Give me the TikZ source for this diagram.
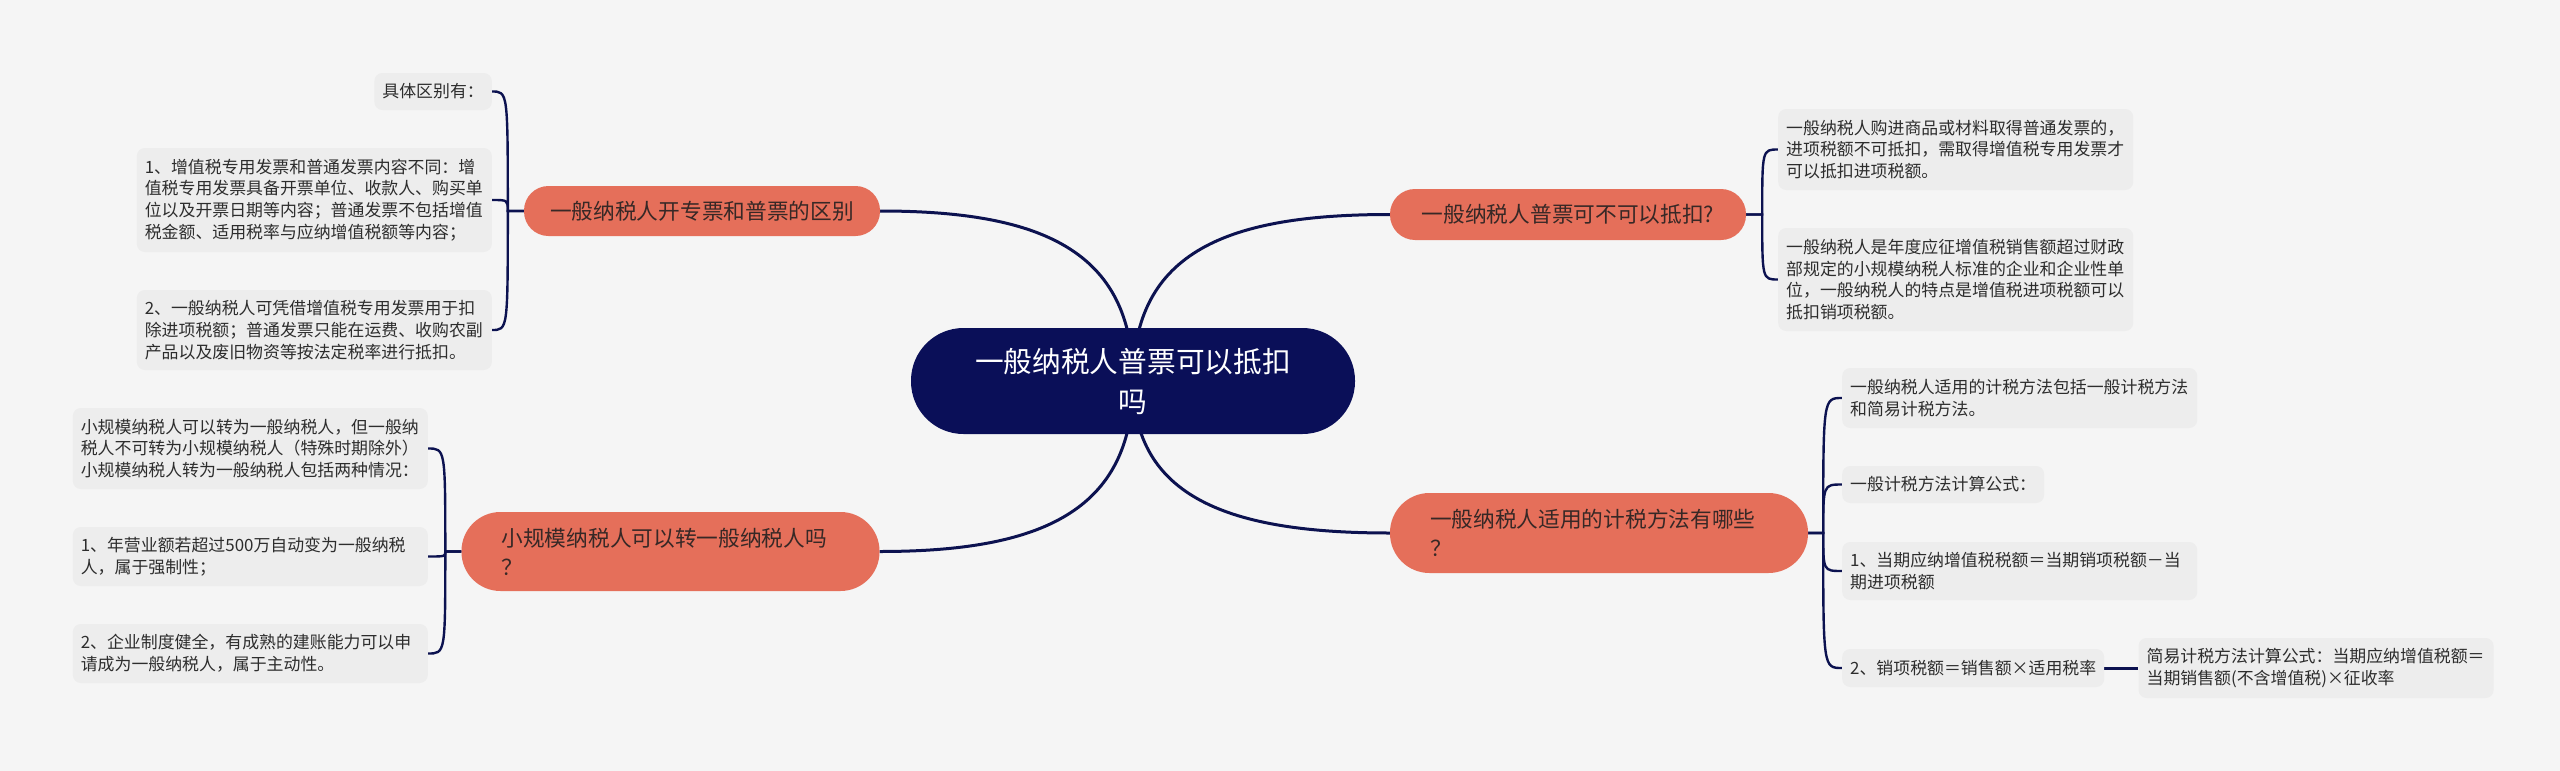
\documentclass[tikz,border=0pt]{standalone}
\usepackage{fontspec}
\setmainfont{Noto Sans CJK SC}
\usetikzlibrary{positioning,calc,backgrounds}
\definecolor{PageGrey}{RGB}{245,245,245}
\definecolor{LeafGrey}{RGB}{237,237,237}
\definecolor{RootNavy}{RGB}{10,15,88}
\definecolor{LinkNavy}{RGB}{12,18,80}
\definecolor{BranchCoral}{RGB}{229,111,90}
\definecolor{BranchText}{RGB}{55,40,38}
\definecolor{LeafText}{RGB}{45,45,45}
\tikzset{
  link/.style={line width=3pt,draw=LinkNavy},
  bracelink/.style={line width=2.4pt,draw=LinkNavy},
  root/.style={fill=RootNavy,text=white,rounded corners=52.5pt,
    minimum width=444pt,minimum height=106pt,align=center,
    font=\fontsize{28.7}{40}\selectfont},
  branch/.style={fill=BranchCoral,text=BranchText,
    font=\fontsize{21.7}{29}\selectfont},
  leaf/.style={fill=LeafGrey,text=LeafText,rounded corners=8pt,
    inner xsep=8pt,inner ysep=3pt,minimum height=37pt,
    font=\fontsize{16.9}{21.7}\selectfont},
  wideleaf/.style={leaf,text width=339pt,align=left}
}

\begin{document}
\begin{tikzpicture}[x=1pt,y=-1pt]
  % centre and the four branches
  \node[root] (root) at (1133,381) {一般纳税人普票可以抵扣\\吗};
  \node[branch,minimum width=356pt,minimum height=50pt,rounded corners=24.5pt] (diff) at (702,211) {一般纳税人开专票和普票的区别};
  \node[branch,minimum width=356pt,minimum height=51pt,rounded corners=25pt] (deduct) at (1568,214.5) {一般纳税人普票可不可以抵扣?};
  \node[branch,text width=338pt,align=left,inner xsep=40pt,minimum height=79pt,rounded corners=39pt] (convert) at (670.5,551.5) {小规模纳税人可以转一般纳税人吗\\？};
  \node[branch,text width=338pt,align=left,inner xsep=40pt,minimum height=80pt,rounded corners=39.5pt] (method) at (1599,533) {一般纳税人适用的计税方法有哪些\\？};

  % leaves, left side
  \node[leaf,anchor=east] (diffA) at (492,91.5) {具体区别有：};
  \node[wideleaf,anchor=east,minimum height=104pt] (diffB) at (492,200) {1、增值税专用发票和普通发票内容不同：增\\值税专用发票具备开票单位、收款人、购买单\\位以及开票日期等内容；普通发票不包括增值\\税金额、适用税率与应纳增值税额等内容；};
  \node[wideleaf,anchor=east,minimum height=80pt] (diffC) at (492,330) {2、一般纳税人可凭借增值税专用发票用于扣\\除进项税额；普通发票只能在运费、收购农副\\产品以及废旧物资等按法定税率进行抵扣。};
  \node[wideleaf,anchor=east,minimum height=81pt] (convA) at (428,448.5) {小规模纳税人可以转为一般纳税人，但一般纳\\税人不可转为小规模纳税人（特殊时期除外）\\小规模纳税人转为一般纳税人包括两种情况：};
  \node[wideleaf,anchor=east,minimum height=59pt] (convB) at (428,556.5) {1、年营业额若超过500万自动变为一般纳税\\人，属于强制性；};
  \node[wideleaf,anchor=east,minimum height=59pt] (convC) at (428,653.5) {2、企业制度健全，有成熟的建账能力可以申\\请成为一般纳税人，属于主动性。};

  % leaves, right side
  \node[wideleaf,anchor=west,minimum height=81pt] (dedA) at (1778,149.5) {一般纳税人购进商品或材料取得普通发票的，\\进项税额不可抵扣，需取得增值税专用发票才\\可以抵扣进项税额。};
  \node[wideleaf,anchor=west,minimum height=103pt] (dedB) at (1778,279.5) {一般纳税人是年度应征增值税销售额超过财政\\部规定的小规模纳税人标准的企业和企业性单\\位，一般纳税人的特点是增值税进项税额可以\\抵扣销项税额。};
  \node[wideleaf,anchor=west,minimum height=60pt] (methA) at (1842,398) {一般纳税人适用的计税方法包括一般计税方法\\和简易计税方法。};
  \node[leaf,anchor=west] (methB) at (1842,484.5) {一般计税方法计算公式：};
  \node[wideleaf,anchor=west,minimum height=58pt] (methC) at (1842,571) {1、当期应纳增值税税额＝当期销项税额－当\\期进项税额};
  \node[leaf,anchor=west,minimum height=38pt] (methD) at (1842,668) {2、销项税额＝销售额×适用税率};
  \node[wideleaf,minimum height=60pt,right=34pt of methD] (methE) {简易计税方法计算公式：当期应纳增值税额＝\\当期销售额(不含增值税)×征收率};

  % bracket junctions
  \coordinate (diffJ) at ($(diff.west)+(-16,0)$);
  \coordinate (convJ) at ($(convert.west)+(-16,0)$);
  \coordinate (dedJ) at ($(deduct.east)+(16,0)$);
  \coordinate (methJ) at ($(method.east)+(15,0)$);

  \begin{scope}[on background layer]
    \fill[PageGrey] (0,0) rectangle (2560,771);
    \draw[link] (root.center) .. controls +(0,-131) and +(160,0) .. (diff.east);
    \draw[link] (root.center) .. controls +(0,-131) and +(-160,0) .. (deduct.west);
    \draw[link] (root.center) .. controls +(0,131) and +(160,0) .. (convert.east);
    \draw[link] (root.center) .. controls +(0,117) and +(-160,0) .. (method.west);
    \foreach \leaf in {diffA,diffB,diffC}
      \draw[bracelink] (diff.west) -- (diffJ) .. controls (diffJ |- \leaf.east) .. (\leaf.east);
    \foreach \leaf in {convA,convB,convC}
      \draw[bracelink] (convert.west) -- (convJ) .. controls (convJ |- \leaf.east) .. (\leaf.east);
    \foreach \leaf in {dedA,dedB}
      \draw[bracelink] (deduct.east) -- (dedJ) .. controls (dedJ |- \leaf.west) .. (\leaf.west);
    \foreach \leaf in {methA,methB,methC,methD}
      \draw[bracelink] (method.east) -- (methJ) .. controls (methJ |- \leaf.west) .. (\leaf.west);
    \draw[link] (methD.east) -- (methE.west);
  \end{scope}
\end{tikzpicture}
\end{document}
